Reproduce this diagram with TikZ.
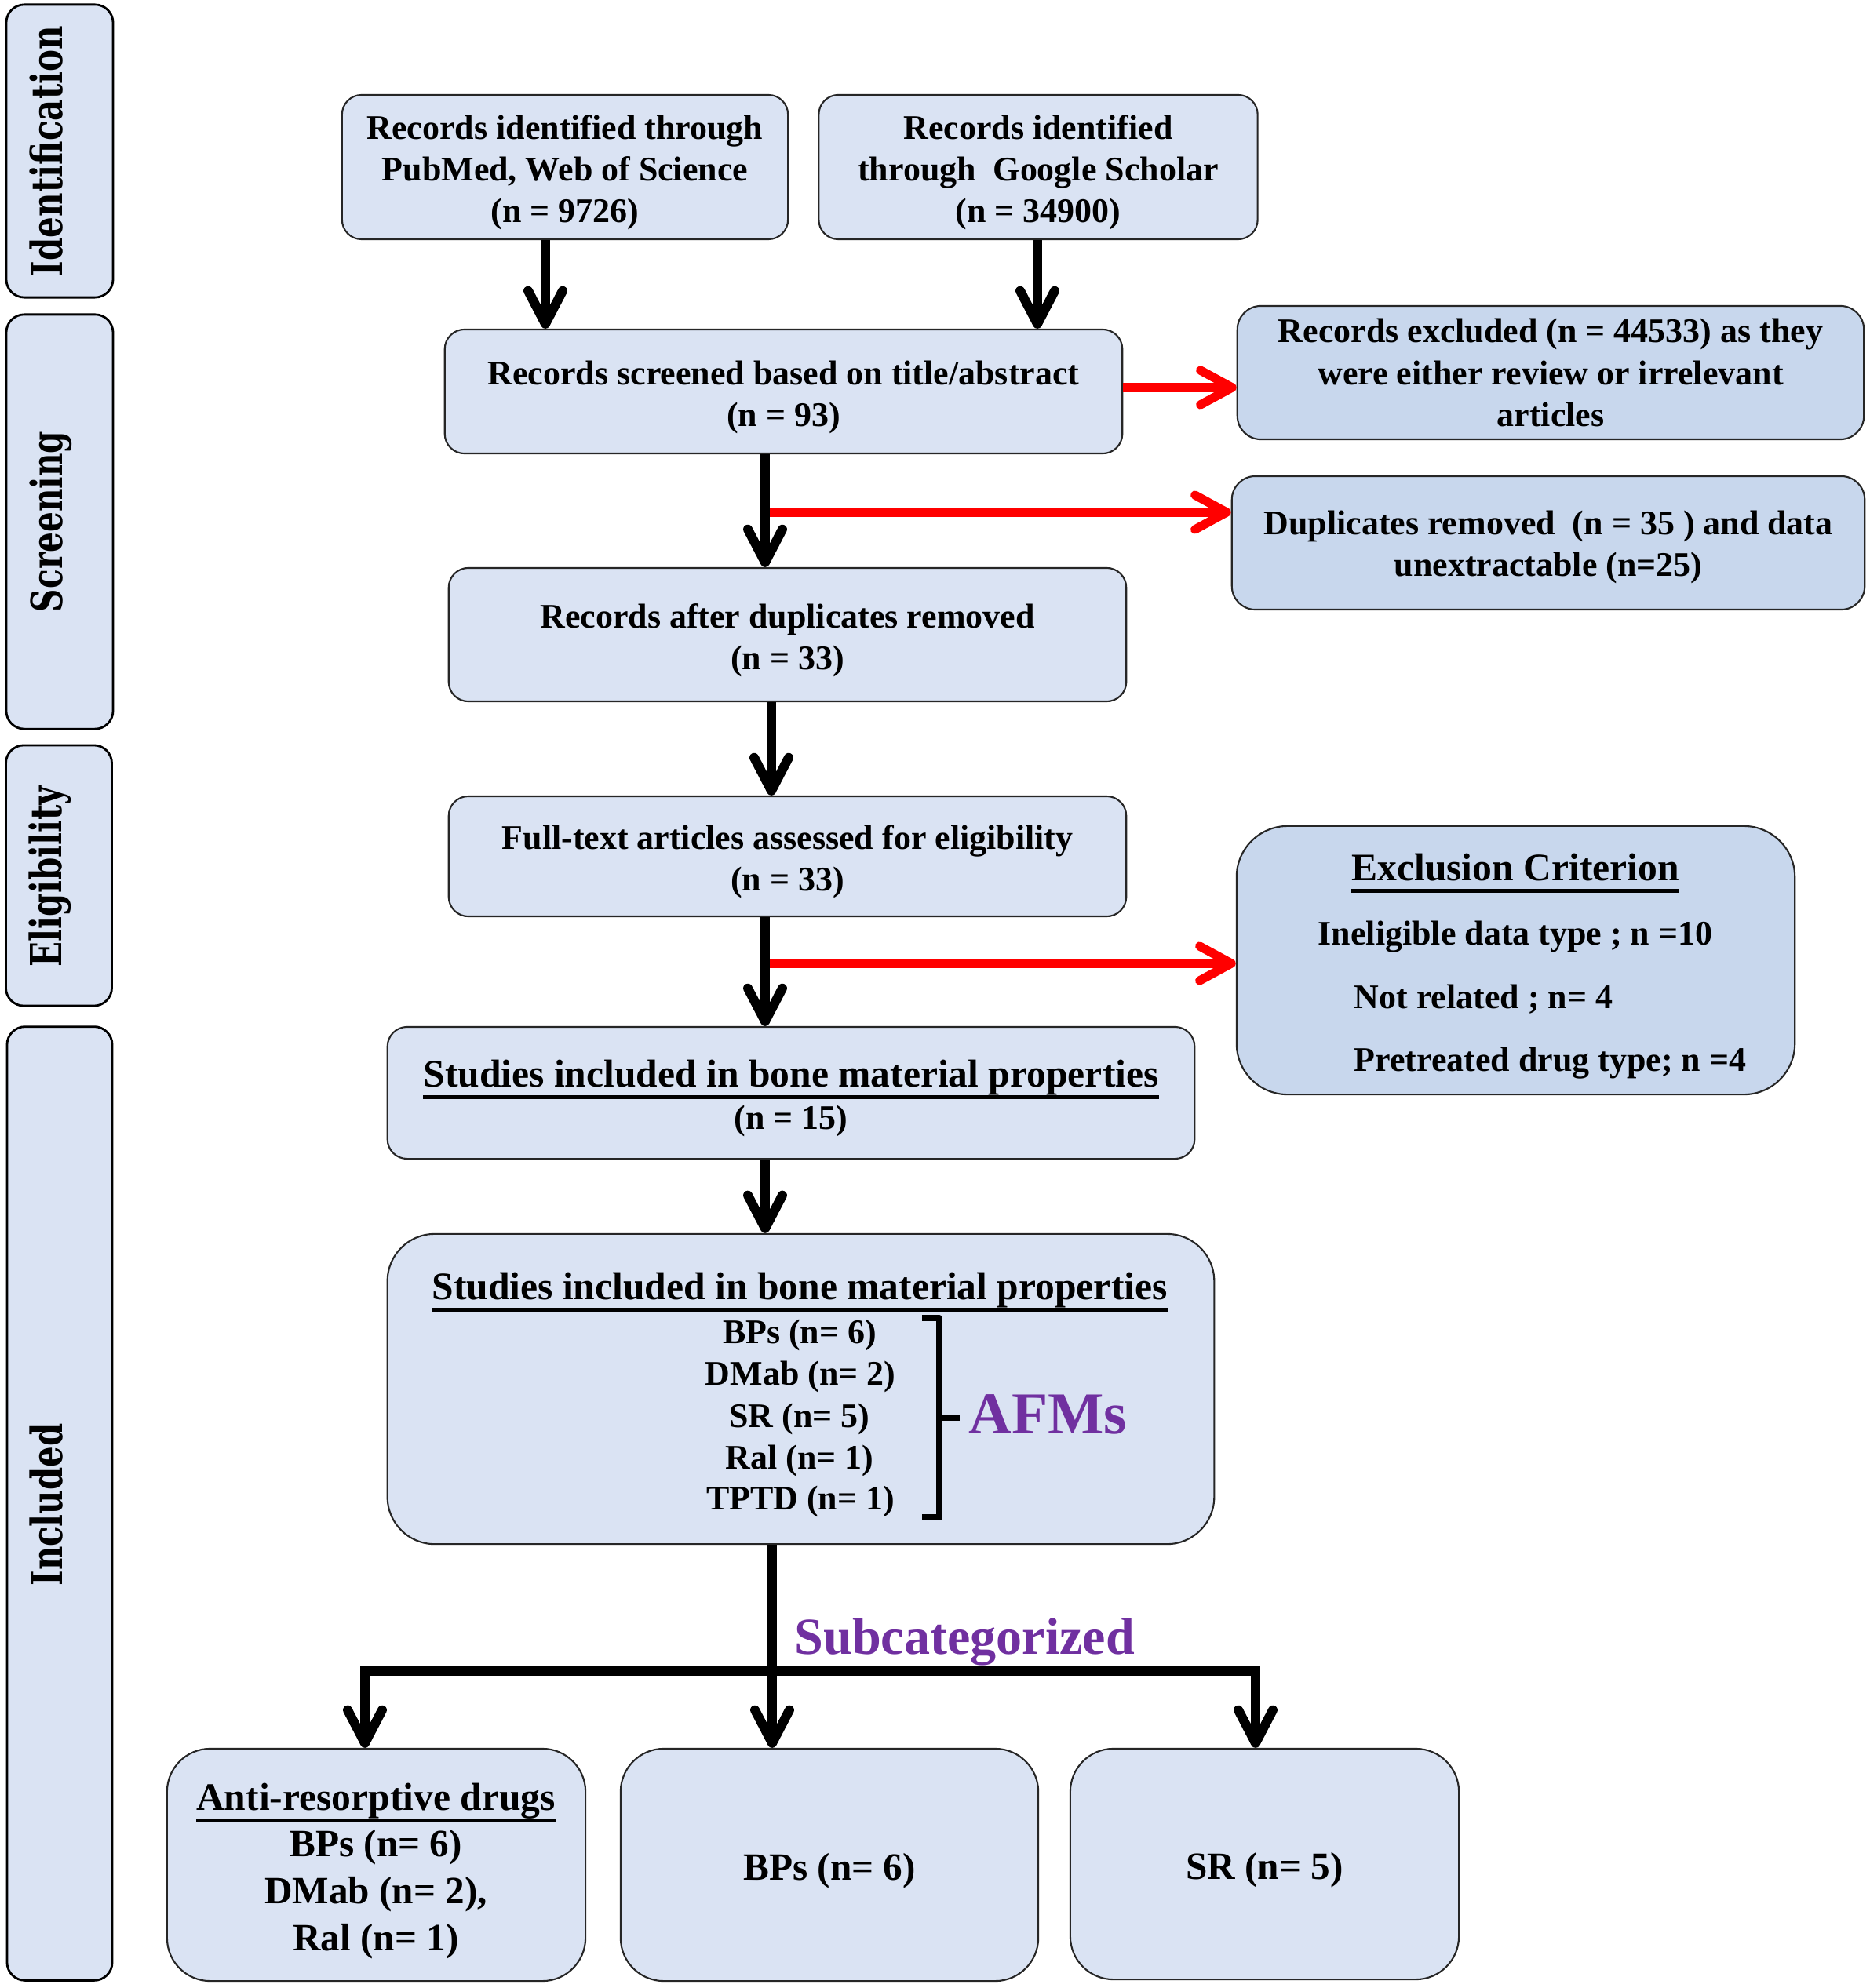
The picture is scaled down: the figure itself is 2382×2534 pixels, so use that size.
\documentclass[tikz,border=0pt]{standalone}
\usepackage{fontspec}
\usepackage{graphicx}
\setmainfont{Liberation Serif}
\newfontfamily\sidefont{DejaVu Serif}
\usetikzlibrary{arrows.meta}
\definecolor{boxfill}{HTML}{DAE3F3}
\definecolor{rboxfill}{HTML}{C8D7ED}
\definecolor{bordc}{HTML}{262626}
\definecolor{afmpurple}{HTML}{7030A0}
\definecolor{arrred}{HTML}{FF0000}
\newsavebox\ulbox
\newcommand{\myul}[1]{\sbox\ulbox{#1}\leavevmode\rlap{\rule[-4.6pt]{\wd\ulbox}{1.4pt}}\usebox\ulbox}
\newcommand{\dn}[1]{\rule{0pt}{#1}}
\newcommand{\bodyfont}{\fontsize{12.5}{15.1}\selectfont\bfseries}
\newcommand{\titlefont}{\fontsize{14.1}{17}\selectfont\bfseries}
\newcommand{\bigfont}{\fontsize{14}{16.8}\selectfont\bfseries}
\begin{document}
\begin{tikzpicture}[x=0.01cm,y=-0.01cm,
  box/.style={draw=bordc,line width=0.6pt,fill=boxfill,rounded corners=0.25cm,inner sep=0pt,align=center,font=\bodyfont},
  rbox/.style={box,fill=rboxfill,rounded corners=0.3cm},
  side/.style={draw=black,line width=0.8pt,fill=boxfill,rounded corners=0.23cm,inner sep=0pt},
  sidetext/.style={rotate=90,anchor=base,inner sep=0pt,font=\sidefont\bfseries\fontsize{15.6}{18}\selectfont},
  txt/.style={inner sep=0pt,font=\bodyfont},
  arr/.style={line width=3.4pt,-{Straight Barb[length=12pt,width=12.5pt,round]}},
  rarr/.style={draw=arrred,line width=3.2pt,-{Straight Barb[length=11.5pt,width=12.5pt,round]}},
  plain/.style={line width=3.4pt}]
\path[use as bounding box,fill=white] (0,0) rectangle (2382,2534);

% side labels
\node[side,minimum width=1.36cm,minimum height=3.73cm] (sid) at (76,192.5) {};
\node[sidetext] (sidt) at (79,192.5) {\resizebox{3.19cm}{\height}{Identification}};
\node[side,minimum width=1.36cm,minimum height=5.28cm] (scr) at (76,665) {};
\node[sidetext] (scrt) at (79,665) {\resizebox{2.30cm}{\height}{Screening}};
\node[side,minimum width=1.35cm,minimum height=3.32cm] (eli) at (75,1116) {};
\node[sidetext] (elit) at (78,1117) {\resizebox{2.30cm}{\height}{Eligibility}};
\node[side,minimum width=1.34cm,minimum height=12.15cm] (inc) at (76,1916.5) {};
\node[sidetext] (inct) at (80,1918) {\resizebox{2.07cm}{\height}{Included}};

% main boxes
\node[box,minimum width=5.68cm,minimum height=1.84cm] (b1) at (720,213) {\dn{12.7pt}Records identified through\\PubMed, Web of Science\\(n = 9726)};
\node[box,minimum width=5.59cm,minimum height=1.84cm] (b2) at (1323,213) {\dn{12.7pt}Records identified\\through\ \ Google Scholar\\(n = 34900)};
\node[box,minimum width=8.63cm,minimum height=1.58cm] (b3) at (998.5,499) {\dn{12.7pt}Records screened based on title/abstract\\(n = 93)};
\node[rbox,minimum width=7.98cm,minimum height=1.70cm] (rex) at (1976,475) {Records excluded (n = 44533) as they\\were either review or irrelevant\\articles};
\node[rbox,minimum width=8.06cm,minimum height=1.70cm] (dup) at (1973,692) {\dn{11.8pt}Duplicates removed\ \ (n = 35 ) and data\\unextractable (n=25)};
\node[box,minimum width=8.63cm,minimum height=1.70cm] (after) at (1003.5,809) {\dn{12.7pt}Records after duplicates removed\\(n = 33)};
\node[box,minimum width=8.63cm,minimum height=1.53cm] (full) at (1003.5,1091.5) {\dn{12.7pt}Full-text articles assessed for eligibility\\(n = 33)};

% exclusion criterion
\node[rbox,minimum width=7.11cm,minimum height=3.42cm,rounded corners=0.65cm] (exc) at (1931.5,1224) {};
\node[txt,anchor=base,font=\titlefont] (exct) at (1931,1122) {\myul{Exclusion Criterion}};
\node[txt,anchor=base west] (exc1) at (1679,1204) {Ineligible data type ; n =10};
\node[txt,anchor=base west] (exc2) at (1725,1285) {Not related ; n= 4};
\node[txt,anchor=base west] (exc3) at (1725,1365) {Pretreated drug type; n =4};

% studies 1
\node[box,minimum width=10.28cm,minimum height=1.68cm] (s1) at (1008,1393) {};
\node[txt,anchor=base,font=\titlefont] (s1t) at (1008,1385) {\myul{Studies included in bone material properties}};
\node[txt,anchor=base] (s1n) at (1008,1439) {(n = 15)};

% studies 2
\node[box,minimum width=10.53cm,minimum height=3.95cm,rounded corners=0.6cm] (s2) at (1020.5,1770.5) {};
\node[txt,anchor=base,font=\titlefont] (s2t) at (1019,1656) {\myul{Studies included in bone material properties}};
\node[txt,anchor=base] (s2a) at (1019,1712) {BPs (n= 6)};
\node[txt,anchor=base] (s2b) at (1020,1765) {DMab (n= 2)};
\node[txt,anchor=base] (s2c) at (1019,1819) {SR (n= 5)};
\node[txt,anchor=base] (s2d) at (1019,1872) {Ral (n= 1)};
\node[txt,anchor=base] (s2e) at (1020,1924) {TPTD (n= 1)};
\draw[line width=2.3pt,line join=round] (1175,1680) -- (1197,1680) -- (1197,1934) -- (1175,1934);
\draw[line width=2.3pt] (1197,1807) -- (1223,1807);
\node[txt,anchor=base west,text=afmpurple,font=\fontsize{21.5}{24}\selectfont\bfseries] (afm) at (1234,1827) {AFMs};

% bottom boxes
\node[box,minimum width=5.33cm,minimum height=2.96cm,rounded corners=0.55cm] (anti) at (479.5,2377) {};
\node[txt,anchor=base,font=\titlefont] (antit) at (479,2307) {\myul{Anti-resorptive drugs}};
\node[txt,anchor=base,font=\bigfont] (anti1) at (479,2366) {BPs (n= 6)};
\node[txt,anchor=base,font=\bigfont] (anti2) at (479,2426) {DMab (n= 2),};
\node[txt,anchor=base,font=\bigfont] (anti3) at (479,2486) {Ral (n= 1)};
\node[box,minimum width=5.32cm,minimum height=2.96cm,rounded corners=0.55cm,font=\bigfont] (bps) at (1057,2377) {\dn{14.3pt}BPs (n= 6)};
\node[box,minimum width=4.95cm,minimum height=2.94cm,rounded corners=0.55cm,font=\bigfont] (sr) at (1611.5,2376) {\dn{14pt}SR (n= 5)};

\node[txt,anchor=base west,text=afmpurple,font=\fontsize{18.8}{22}\selectfont\bfseries] (subc) at (1012,2108) {Subcategorized};

% connectors
\coordinate (c1) at (695,0);
\coordinate (c2) at (1322,0);
\coordinate (c3) at (975,0);
\coordinate (c4) at (983,0);
\coordinate (cL) at (465,0);
\coordinate (cM) at (984,0);
\coordinate (cR) at (1600,0);
\coordinate (y1) at (0,494);
\coordinate (r2) at (981,653);
\coordinate (r3) at (981,1228);
\coordinate (j) at (984,2130);

\draw[arr] (b1.south -| c1) -- (b3.north -| c1);
\draw[arr] (b2.south -| c2) -- (b3.north -| c2);
\draw[arr] (b3.south -| c3) -- (after.north -| c3);
\draw[rarr] (b3.east |- y1) -- (rex.west |- y1);
\draw[rarr] (r2) -- (r2 -| dup.west);
\draw[arr] (after.south -| c4) -- (full.north -| c4);
\draw[arr] (full.south -| c3) -- (s1.north -| c3);
\draw[rarr] (r3) -- (r3 -| exc.west);
\draw[arr] (s1.south -| c3) -- (s2.north -| c3);
\draw[plain] (s2.south -| cM) -- (j);
\draw[plain,line cap=rect] (cL |- j) -- (cR |- j);
\draw[arr] (cL |- j) -- (anti.north -| cL);
\draw[arr] (j) -- (bps.north -| cM);
\draw[arr] (cR |- j) -- (sr.north -| cR);
\end{tikzpicture}
\end{document}
